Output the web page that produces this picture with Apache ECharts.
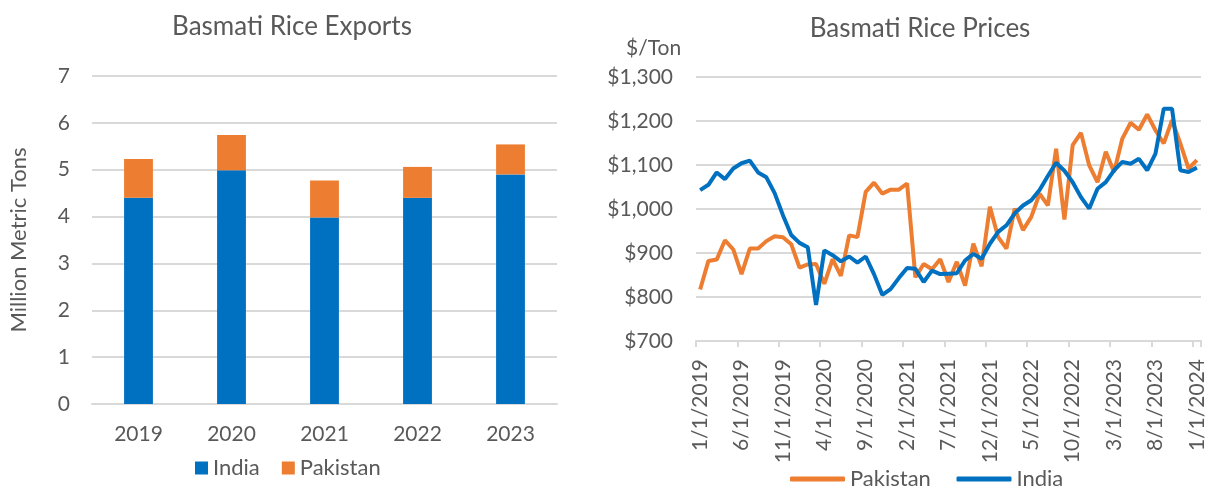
<!DOCTYPE html>
<html>
<head>
<meta charset="utf-8">
<script src="https://cdn.jsdelivr.net/npm/echarts@6/dist/echarts.min.js"></script>
<style>
html,body{margin:0;padding:0;background:#fff;}
#c{width:1208px;height:487px;}
</style>
</head>
<body>
<div id="c"></div>
<script>
const years = ['2019','2020','2021','2022','2023'];
const indiaExports = [4.40, 4.99, 3.98, 4.40, 4.90];
const pakistanExports = [0.83, 0.75, 0.79, 0.66, 0.64];

const months = [
'1/1/2019','2/1/2019','3/1/2019','4/1/2019','5/1/2019','6/1/2019','7/1/2019','8/1/2019','9/1/2019','10/1/2019','11/1/2019','12/1/2019',
'1/1/2020','2/1/2020','3/1/2020','4/1/2020','5/1/2020','6/1/2020','7/1/2020','8/1/2020','9/1/2020','10/1/2020','11/1/2020','12/1/2020',
'1/1/2021','2/1/2021','3/1/2021','4/1/2021','5/1/2021','6/1/2021','7/1/2021','8/1/2021','9/1/2021','10/1/2021','11/1/2021','12/1/2021',
'1/1/2022','2/1/2022','3/1/2022','4/1/2022','5/1/2022','6/1/2022','7/1/2022','8/1/2022','9/1/2022','10/1/2022','11/1/2022','12/1/2022',
'1/1/2023','2/1/2023','3/1/2023','4/1/2023','5/1/2023','6/1/2023','7/1/2023','8/1/2023','9/1/2023','10/1/2023','11/1/2023','12/1/2023',
'1/1/2024'];
const pakistanPrices = [817,882,885,929,908,852,910,910,927,938,936,920,
867,874,875,830,886,848,940,936,1039,1060,1035,1044,
1044,1058,845,875,863,886,834,880,826,921,870,1005,
936,910,1001,952,982,1035,1008,1137,976,1145,1173,1099,
1061,1130,1084,1160,1196,1180,1215,1179,1149,1202,1149,1092,
1111];
const indiaPrices = [1043,1055,1083,1068,1092,1104,1110,1083,1072,1036,986,941,
923,913,782,906,895,881,892,878,892,852,805,818,
843,866,864,834,860,852,853,854,883,898,887,921,
948,963,990,1008,1020,1043,1075,1105,1087,1061,1027,1001,
1046,1061,1088,1107,1103,1114,1088,1126,1228,1228,1088,1084,
1094];
const priceTicks = [700, 1300, 100];

const FONT = 'Lato';
const TXT = '#595959';
const GRID = '#D9D9D9';
const BLUE = '#0070C0';
const ORANGE = '#ED7D31';

const chart = echarts.init(document.getElementById('c'), null, {renderer:'canvas'});
chart.setOption({
  backgroundColor:'#fff',
  textStyle:{fontFamily:FONT},
  animation:false,
  title:[
    {text:'Basmati Rice Exports', left:287, top:9, textAlign:'center',
     textStyle:{fontFamily:FONT, fontSize:26, fontWeight:'normal', color:TXT}},
    {text:'Basmati Rice Prices', left:915, top:11, textAlign:'center',
     textStyle:{fontFamily:FONT, fontSize:26, fontWeight:'normal', color:TXT}},
    {text:'$/Ton', left:621, top:33,
     textStyle:{fontFamily:FONT, fontSize:21, fontWeight:'normal', color:TXT}}
  ],
  legend:[
    {left:190, top:452, icon:'rect', itemWidth:13, itemHeight:13, itemGap:22,
     data:['India','Pakistan'],
     textStyle:{fontFamily:FONT, fontSize:22, color:TXT}},
    {left:785, top:463, icon:'roundRect', itemWidth:55, itemHeight:5, itemGap:20,
     data:['Pakistan ', 'India '],
     textStyle:{fontFamily:FONT, fontSize:22, color:TXT}}
  ],
  grid:[
    {left:92, right:651, top:76, bottom:83, containLabel:false},
    {left:696, right:7, top:77, bottom:146, containLabel:false}
  ],
  xAxis:[
    {gridIndex:0, type:'category', data:years,
     axisLine:{lineStyle:{color:GRID, width:2}}, axisTick:{show:false},
     axisLabel:{color:TXT, fontFamily:FONT, fontSize:21, margin:20}},
    {gridIndex:1, type:'category', data:months, boundaryGap:true,
     axisLine:{lineStyle:{color:GRID, width:2}},
     axisTick:{show:true, interval:4, length:6, lineStyle:{color:GRID, width:2}},
     axisLabel:{color:TXT, fontFamily:FONT, fontSize:21, rotate:90, interval:4, margin:18}}
  ],
  yAxis:[
    {gridIndex:0, type:'value', min:0, max:7, interval:1,
     name:'Million Metric Tons', nameLocation:'middle', nameGap:62,
     nameTextStyle:{color:TXT, fontFamily:FONT, fontSize:22},
     axisLine:{show:false}, axisTick:{show:false},
     splitLine:{lineStyle:{color:GRID, width:2}},
     axisLabel:{color:TXT, fontFamily:FONT, fontSize:21, margin:22}},
    {gridIndex:1, type:'value', min:priceTicks[0], max:priceTicks[1], interval:priceTicks[2],
     axisLine:{show:false}, axisTick:{show:false},
     splitLine:{lineStyle:{color:GRID, width:2}},
     axisLabel:{color:TXT, fontFamily:FONT, fontSize:21, margin:23,
       formatter:v => '$' + v.toLocaleString('en-US')}}
  ],
  series:[
    {name:'India', type:'bar', stack:'exp', xAxisIndex:0, yAxisIndex:0,
     data:indiaExports, barWidth:'31%', itemStyle:{color:BLUE}},
    {name:'Pakistan', type:'bar', stack:'exp', xAxisIndex:0, yAxisIndex:0,
     data:pakistanExports, barWidth:'31%', itemStyle:{color:ORANGE}},
    {name:'Pakistan ', type:'line', xAxisIndex:1, yAxisIndex:1, data:pakistanPrices,
     showSymbol:false, lineStyle:{color:ORANGE, width:4}, itemStyle:{color:ORANGE}},
    {name:'India ', type:'line', xAxisIndex:1, yAxisIndex:1, data:indiaPrices,
     showSymbol:false, lineStyle:{color:BLUE, width:4}, itemStyle:{color:BLUE}}
  ]
});
</script>
</body>
</html>
